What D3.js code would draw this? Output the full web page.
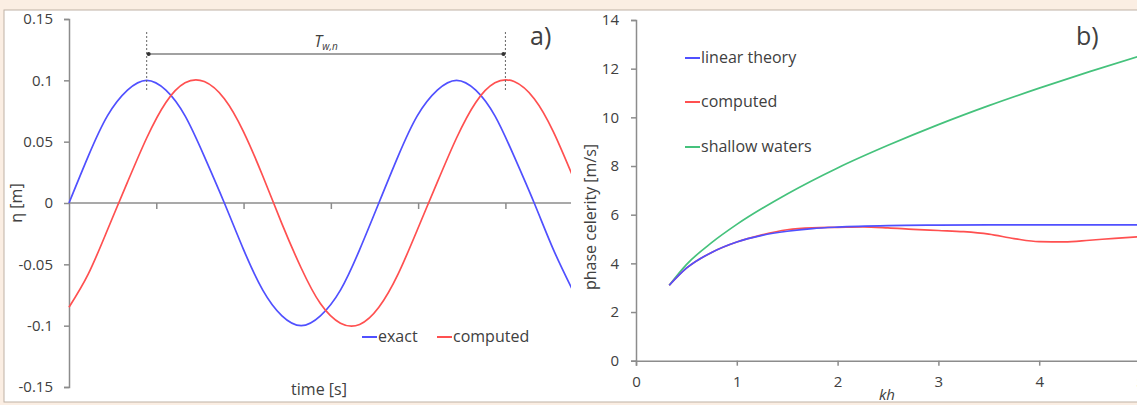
<!DOCTYPE html>
<html>
<head>
<meta charset="utf-8">
<script src="https://cdn.jsdelivr.net/npm/d3@7"></script>
<style>
  body { margin: 0; background: #fbeee3; }
  svg { display: block; }
  text { font-family: "Open Sans", sans-serif; fill: #404040; }
</style>
</head>
<body>
<div id="container"></div>
<script>
let w = 1137;
let h = 405;

// panel a) : free surface elevation vs time (read off the picture)
let timeSamples = [0, 0.22, 0.44, 0.67, 0.89, 1.11, 1.33, 1.55, 1.78, 2.0, 2.22, 2.44, 2.66,
  2.88, 3.11, 3.33, 3.55, 3.77, 3.99, 4.22, 4.44, 4.66, 4.88, 5.1, 5.33, 5.55, 5.77];
let etaExact = [0, 0.038, 0.071, 0.092, 0.1, 0.092, 0.071, 0.038, 0, -0.038, -0.071, -0.092, -0.1,
  -0.092, -0.071, -0.038, 0, 0.038, 0.071, 0.092, 0.1, 0.092, 0.071, 0.038, 0, -0.038, -0.071];
let etaComputed = [-0.085, -0.058, -0.022, 0.017, 0.053, 0.082, 0.098, 0.099, 0.085, 0.058, 0.022, -0.017, -0.053,
  -0.082, -0.098, -0.099, -0.085, -0.058, -0.022, 0.017, 0.053, 0.082, 0.098, 0.099, 0.085, 0.058, 0.022];
let etaTicks = [-0.15, -0.1, -0.05, 0, 0.05, 0.1, 0.15];
let etaTickLabels = ["-0.15", "-0.1", "-0.05", "0", "0.05", "0.1", "0.15"];
let timeTicks = [1, 2, 3, 4, 5];
let periodMarks = [0.89, 5.0];   // exact first crest, computed second crest

// panel b) : phase celerity vs kh
let khLinear = [0.33, 0.5, 0.75, 1, 1.25, 1.5, 1.75, 2, 2.5, 3, 3.5, 4, 4.5, 5];
let cLinear = [3.1, 3.8, 4.45, 4.88, 5.15, 5.32, 5.43, 5.49, 5.55, 5.57, 5.58, 5.58, 5.58, 5.58];
let khComputed = [0.33, 0.5, 0.75, 1, 1.25, 1.5, 1.75, 2, 2.25, 2.5, 2.75, 3, 3.25, 3.5, 3.75, 4, 4.25, 4.5, 4.75, 5];
let cComputed = [3.1, 3.8, 4.45, 4.88, 5.17, 5.38, 5.46, 5.48, 5.5, 5.46, 5.4, 5.35, 5.3, 5.2, 5.02, 4.89, 4.88, 4.95, 5.03, 5.1];
let khShallow = [0.33, 0.5, 0.75, 1, 1.5, 2, 2.5, 3, 3.5, 4, 4.5, 5];
let cShallow = [3.1, 3.95, 4.85, 5.6, 6.85, 7.92, 8.85, 9.7, 10.48, 11.2, 11.88, 12.52];
let cTicks = [0, 2, 4, 6, 8, 10, 12, 14];
let khTicks = [0, 1, 2, 3, 4, 5];

let blue = "#5050ff";
let red = "#ff5050";
let green = "#45c27c";
let axisGrey = "#8c8c8c";

let viz = d3.select("#container")
  .append("svg")
    .attr("width", w)
    .attr("height", h)
;

// page frame
viz.append("rect").attr("x", 0).attr("y", 0).attr("width", w).attr("height", h).attr("fill", "#fbeee3");
viz.append("rect").attr("x", 4).attr("y", 10).attr("width", w).attr("height", 392)
  .attr("fill", "white").attr("stroke", "#bfb2a6").attr("stroke-width", 1);

let defs = viz.append("defs");
defs.append("clipPath").attr("id", "clipA")
  .append("rect").attr("x", 5).attr("y", 11).attr("width", 566).attr("height", 390);

function styleAxis(g){
  g.select(".domain").attr("stroke", axisGrey).attr("stroke-width", 1.5);
  g.selectAll(".tick line").attr("stroke", axisGrey).attr("stroke-width", 1.5);
  g.selectAll(".tick text").style("font-size", "15px").attr("fill", "#404040");
}

// ---------------- panel a ----------------
let xA = d3.scaleLinear().domain([0, 5.74]).range([69, 570]);
let yA = d3.scaleLinear().domain([-0.15, 0.15]).range([387, 19]);

let panelA = viz.append("g").attr("clip-path", "url(#clipA)");

let yAxisA = panelA.append("g")
  .attr("transform", "translate(" + xA(0) + ",0)")
  .call(d3.axisLeft(yA).tickValues(etaTicks).tickSize(5).tickPadding(11)
    .tickFormat(function(d, i){ return etaTickLabels[i]; }));
styleAxis(yAxisA);

let xAxisA = panelA.append("g")
  .attr("transform", "translate(0," + yA(0) + ")")
  .call(d3.axisBottom(xA).tickValues(timeTicks).tickSize(6).tickFormat(""));
styleAxis(xAxisA);
xAxisA.select(".domain").attr("d", "M" + xA(0) + ",0H" + 575);

let lineA = d3.line()
  .x(function(d, i){ return xA(timeSamples[i]); })
  .y(function(d){ return yA(d); })
  .curve(d3.curveNatural);

panelA.append("path").datum(etaExact).attr("d", lineA)
  .attr("fill", "none").attr("stroke", blue).attr("stroke-width", 1.7);
panelA.append("path").datum(etaComputed).attr("d", lineA)
  .attr("fill", "none").attr("stroke", red).attr("stroke-width", 1.7);

// period annotation
panelA.selectAll(".mark").data(periodMarks).enter()
  .append("line")
    .attr("x1", function(d){ return xA(d); })
    .attr("x2", function(d){ return xA(d); })
    .attr("y1", 32).attr("y2", 90)
    .attr("stroke", "#666").attr("stroke-width", 1).attr("stroke-dasharray", "2,2");
panelA.append("line")
  .attr("x1", xA(periodMarks[0])).attr("x2", xA(periodMarks[1]))
  .attr("y1", 54).attr("y2", 54)
  .attr("stroke", "#444").attr("stroke-width", 1.2);
panelA.selectAll(".arrowdot").data(periodMarks).enter()
  .append("circle")
    .attr("cx", function(d, i){ return xA(d) + (i == 0 ? 2 : -2); })
    .attr("cy", 54).attr("r", 2).attr("fill", "#333");
let tLabel = panelA.append("text")
  .attr("x", (xA(periodMarks[0]) + xA(periodMarks[1])) / 2).attr("y", 47)
  .attr("text-anchor", "middle").style("font-size", "16px").style("font-style", "italic");
tLabel.append("tspan").text("T");
tLabel.append("tspan").attr("dy", 3).style("font-size", "10px").text("w,n");

panelA.append("text").attr("x", 530).attr("y", 45).style("font-size", "25px").text("a)");

panelA.append("text")
  .attr("transform", "translate(22," + yA(0) + ") rotate(-90)")
  .attr("text-anchor", "middle").style("font-size", "16px").text("η [m]");
panelA.append("text").attr("x", 319).attr("y", 395)
  .attr("text-anchor", "middle").style("font-size", "16px").text("time [s]");

// legend a
let legendA = [{name: "exact", color: blue, x: 362}, {name: "computed", color: red, x: 437}];
let legA = panelA.selectAll(".legA").data(legendA).enter().append("g")
  .attr("transform", function(d){ return "translate(" + d.x + ",337)"; });
legA.append("line").attr("x1", 0).attr("x2", 15).attr("y1", 0).attr("y2", 0)
  .attr("stroke", function(d){ return d.color; }).attr("stroke-width", 2);
legA.append("text").attr("x", 16).attr("y", 5).style("font-size", "16px").text(function(d){ return d.name; });

// ---------------- panel b ----------------
let xB = d3.scaleLinear().domain([0, 5]).range([636, 1140]);
let yB = d3.scaleLinear().domain([0, 14]).range([360.7, 20]);

let panelB = viz.append("g");

let yAxisB = panelB.append("g")
  .attr("transform", "translate(" + xB(0) + ",0)")
  .call(d3.axisLeft(yB).tickValues(cTicks).tickSize(5).tickPadding(12).tickFormat(d3.format("d")));
styleAxis(yAxisB);

let xAxisB = panelB.append("g")
  .attr("transform", "translate(0," + yB(0) + ")")
  .call(d3.axisBottom(xB).tickValues(khTicks).tickSize(5).tickPadding(11).tickFormat(d3.format("d")));
styleAxis(xAxisB);

function lineB(xs){
  return d3.line()
    .x(function(d, i){ return xB(xs[i]); })
    .y(function(d){ return yB(d); })
    .curve(d3.curveMonotoneX);
}

panelB.append("path").datum(cShallow).attr("d", lineB(khShallow))
  .attr("fill", "none").attr("stroke", green).attr("stroke-width", 1.7);
panelB.append("path").datum(cComputed).attr("d", lineB(khComputed))
  .attr("fill", "none").attr("stroke", red).attr("stroke-width", 1.7);
panelB.append("path").datum(cLinear).attr("d", lineB(khLinear))
  .attr("fill", "none").attr("stroke", blue).attr("stroke-width", 1.7);

panelB.append("text").attr("x", 1076).attr("y", 45).style("font-size", "25px").text("b)");

panelB.append("text")
  .attr("transform", "translate(596,217) rotate(-90)")
  .attr("text-anchor", "middle").style("font-size", "16px").text("phase celerity [m/s]");
panelB.append("text").attr("x", 887).attr("y", 400)
  .attr("text-anchor", "middle").style("font-size", "15px").style("font-style", "italic").text("kh");

// legend b
let legendB = [{name: "linear theory", color: blue, y: 58},
  {name: "computed", color: red, y: 102},
  {name: "shallow waters", color: green, y: 147}];
let legB = panelB.selectAll(".legB").data(legendB).enter().append("g")
  .attr("transform", function(d){ return "translate(685," + d.y + ")"; });
legB.append("line").attr("x1", 0).attr("x2", 15).attr("y1", 0).attr("y2", 0)
  .attr("stroke", function(d){ return d.color; }).attr("stroke-width", 2);
legB.append("text").attr("x", 16).attr("y", 5).style("font-size", "16px").text(function(d){ return d.name; });
</script>
</body>
</html>
